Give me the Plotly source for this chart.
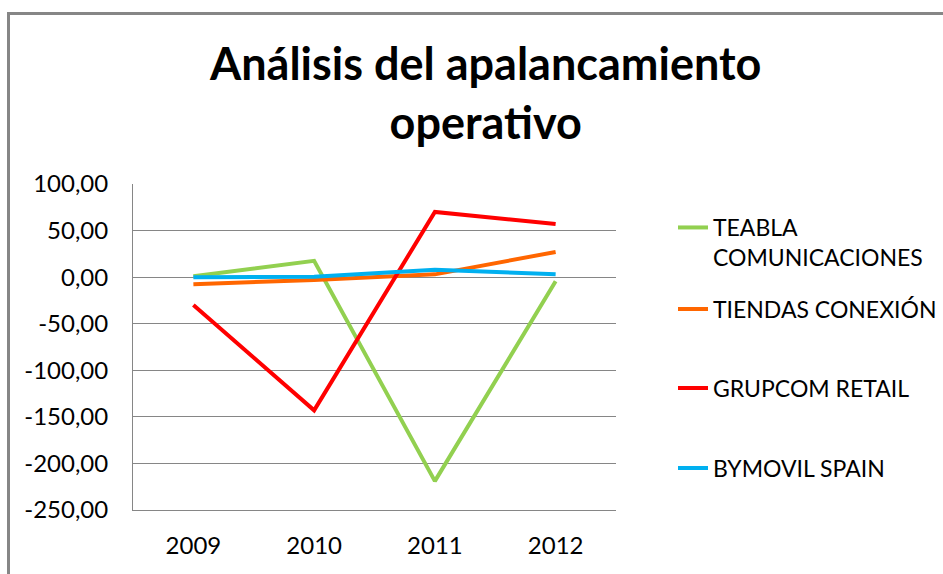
import plotly.graph_objects as go

years = ["2009", "2010", "2011", "2012"]
teabla = [1.0, 17.5, -219.0, -4.5]
tiendas = [-7.5, -3.0, 3.0, 27.0]
grupcom = [-30.0, -143.0, 70.0, 57.0]
bymovil = [0.0, 0.5, 8.0, 3.0]

y_tick_vals = [100, 50, 0, -50, -100, -150, -200, -250]
y_tick_text = ["100,00", "50,00", "0,00", "-50,00", "-100,00", "-150,00", "-200,00", "-250,00"]

names = ["TEABLA<br>COMUNICACIONES", "TIENDAS CONEXIÓN", "GRUPCOM RETAIL", "BYMOVIL SPAIN"]
series = [teabla, tiendas, grupcom, bymovil]
colors = ["#92D050", "#FF6600", "#FF0000", "#00B0F0"]
legend_ids = ["legend", "legend2", "legend3", "legend4"]

W, H = 943, 574
L, R, T, B = 133, 616, 184, 510

def px(x):
    return (x - L) / (R - L)

def py(y):
    return (B - y) / (B - T)

fig = go.Figure()
for n, s, c, lg in zip(names, series, colors, legend_ids):
    fig.add_trace(go.Scatter(x=years, y=s, name=n, mode="lines",
                             line=dict(color=c, width=4), legend=lg))

font_family = "Lato"
legend_font = dict(family=font_family, size=23, color="#000000")
leg_x = px(673)
legend_common = dict(x=leg_x, xanchor="left", font=legend_font, bgcolor="rgba(0,0,0,0)",
                     borderwidth=0, valign="top")

fig.update_layout(
    width=W, height=H, autosize=False,
    margin=dict(l=L, r=W - R, t=T, b=H - B, pad=0, autoexpand=False),
    plot_bgcolor="white", paper_bgcolor="white",
    showlegend=True,
    legend=dict(**legend_common, y=py(206), yanchor="top"),
    legend2=dict(**legend_common, y=py(309), yanchor="middle"),
    legend3=dict(**legend_common, y=py(388), yanchor="middle"),
    legend4=dict(**legend_common, y=py(468), yanchor="middle"),
    xaxis=dict(type="category", range=[-0.5, 3.5], showgrid=False,
               showline=True, linecolor="#868686", linewidth=1,
               ticks="", tickfont=dict(family=font_family, size=24, color="#000000"),
               ticklabelstandoff=14),
    yaxis=dict(range=[-250, 100], tickmode="array", tickvals=y_tick_vals, ticktext=y_tick_text,
               showgrid=True, gridcolor="#868686", gridwidth=1,
               showline=True, linecolor="#868686", linewidth=1,
               zeroline=False, ticks="",
               tickfont=dict(family=font_family, size=24, color="#000000"),
               ticklabelstandoff=19),
    annotations=[dict(text="Análisis del apalancamiento<br>operativo",
                      xref="paper", yref="paper", x=px(485), y=py(92),
                      xanchor="center", yanchor="middle", showarrow=False,
                      font=dict(family=font_family, size=45, color="#000000", weight="bold"))],
    shapes=[
        dict(type="line", xref="paper", yref="paper", x0=px(7), x1=px(943), y0=py(13.5), y1=py(13.5),
             line=dict(color="#868686", width=3)),
        dict(type="line", xref="paper", yref="paper", x0=px(8.5), x1=px(8.5), y0=py(12), y1=py(574),
             line=dict(color="#868686", width=3)),
    ],
)

fig.write_html("out.html", config={"displayModeBar": False, "responsive": False},
               post_script="document.body.style.margin='0';document.body.style.padding='0';document.body.style.overflow='hidden';")
